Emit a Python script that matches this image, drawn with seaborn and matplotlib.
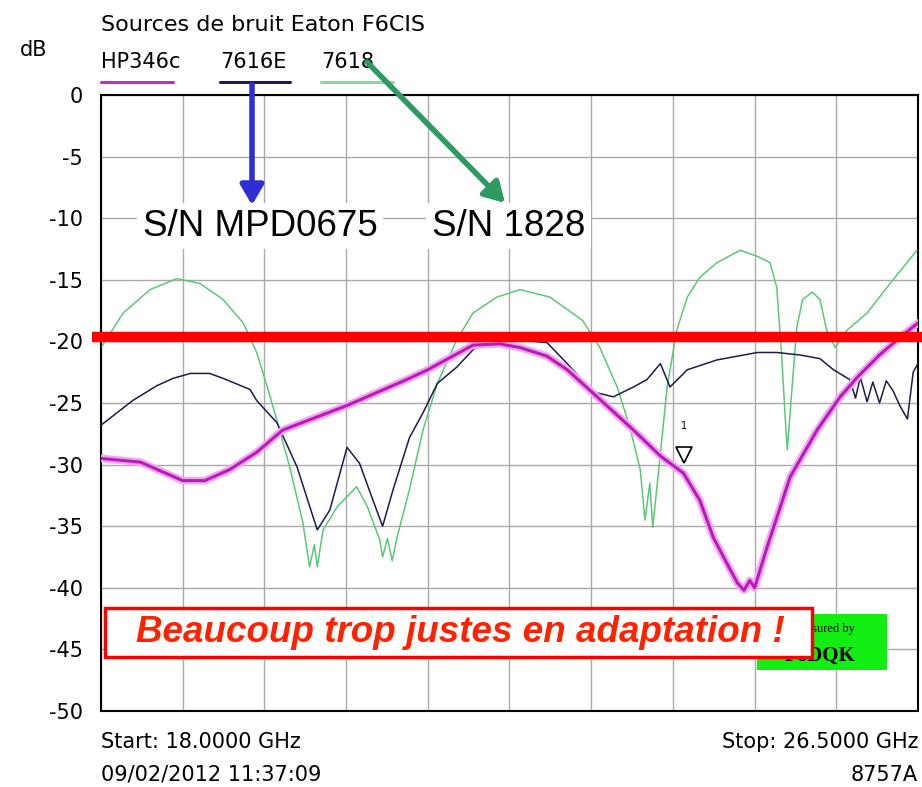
import matplotlib
matplotlib.use("Agg")
import matplotlib.pyplot as plt
from matplotlib.patches import Rectangle, FancyArrowPatch
import seaborn as sns
import pandas as pd
import numpy as np

# sweep 18 - 26.5 GHz, return loss in dB
hp346c_ghz = [18.00, 18.41, 18.85, 19.08, 19.34, 19.62, 19.89, 20.56, 21.18, 21.40,
              21.87, 22.15, 22.36, 22.64, 22.85, 23.12, 23.54, 23.82, 24.06, 24.23,
              24.37, 24.49, 24.62, 24.69, 24.75, 24.80, 24.93, 25.17, 25.45, 25.69,
              25.87, 26.10, 26.31, 26.50]
hp346c_db = [-29.5, -29.8, -31.3, -31.3, -30.4, -29.0, -27.2, -25.2, -23.1, -22.3,
             -20.3, -20.2, -20.5, -21.2, -22.3, -24.2, -27.2, -29.3, -30.7, -32.9,
             -35.9, -37.7, -39.6, -40.2, -39.4, -40.0, -36.7, -31.0, -27.2, -24.5,
             -22.9, -21.1, -19.7, -18.5]

e7616_ghz = [18.00, 18.33, 18.58, 18.75, 18.93, 19.13, 19.27, 19.55, 19.62, 19.83,
             20.04, 20.25, 20.38, 20.56, 20.69, 20.83, 20.93, 21.04, 21.21, 21.35,
             21.50, 21.70, 21.94, 22.15, 22.36, 22.64, 22.85, 23.12, 23.33, 23.54,
             23.68, 23.82, 23.92, 24.10, 24.41, 24.83, 25.03, 25.27, 25.48, 25.62,
             25.79, 25.85, 25.90, 25.97, 26.03, 26.10, 26.17, 26.24, 26.31, 26.39,
             26.45, 26.50]
e7616_db = [-26.8, -24.8, -23.6, -23.0, -22.6, -22.6, -23.0, -23.9, -24.8, -26.6,
            -30.2, -35.3, -33.7, -28.6, -29.9, -32.9, -35.0, -32.0, -27.8, -25.8,
            -23.4, -22.1, -20.1, -19.9, -19.9, -20.1, -21.8, -24.1, -24.5, -23.7,
            -23.1, -21.8, -23.7, -22.3, -21.5, -20.9, -20.9, -21.1, -21.4, -22.3,
            -23.1, -24.6, -22.9, -24.9, -23.3, -25.0, -23.2, -24.0, -25.2, -26.3,
            -22.5, -21.8]

s7618_ghz = [18.01, 18.23, 18.51, 18.79, 19.03, 19.27, 19.48, 19.62, 19.73, 19.83,
             19.97, 20.10, 20.17, 20.22, 20.25, 20.31, 20.46, 20.66, 20.77, 20.90,
             20.93, 20.98, 21.03, 21.08, 21.21, 21.35, 21.50, 21.70, 21.87, 22.12,
             22.36, 22.67, 23.01, 23.19, 23.37, 23.50, 23.61, 23.66, 23.71, 23.74,
             23.82, 23.89, 23.99, 24.10, 24.23, 24.41, 24.65, 24.83, 24.96, 25.03,
             25.08, 25.12, 25.14, 25.19, 25.24, 25.30, 25.40, 25.48, 25.55, 25.64,
             25.76, 25.97, 26.24, 26.49]
s7618_db = [-20.4, -17.7, -15.8, -14.9, -15.3, -16.6, -18.5, -20.9, -23.7, -26.4,
            -30.4, -34.7, -38.3, -36.5, -38.3, -35.3, -33.4, -31.8, -33.4, -36.1,
            -37.5, -36.0, -37.8, -35.9, -32.0, -27.2, -23.4, -19.9, -17.7, -16.4,
            -15.8, -16.4, -18.3, -20.5, -23.7, -26.9, -30.4, -34.5, -31.5, -35.1,
            -29.1, -23.7, -19.1, -16.4, -14.8, -13.6, -12.6, -13.1, -13.6, -15.6,
            -20.9, -26.4, -28.8, -23.7, -18.8, -16.6, -16.0, -16.6, -19.1, -20.5,
            -19.1, -17.7, -15.0, -12.6]

legend_labels = ["HP346c", "7616E", "7618"]
marker_ghz, marker_db = 24.07, -29.2
limit_db = -19.65

W, H = 922, 787
sns.set_style("white")
plt.rcParams["font.family"] = ["DejaVu Sans"]
plt.rcParams["text.color"] = "black"
plt.rcParams["ytick.color"] = "black"

fig = plt.figure(figsize=(W / 100, H / 100), dpi=100)
ax = fig.add_axes([101 / W, 1 - 711 / H, 817 / W, 616 / H])


def fx(px):
    return px / W


def fy(py):
    return 1 - py / H


hp = pd.DataFrame({"ghz": hp346c_ghz, "db": hp346c_db})
e16 = pd.DataFrame({"ghz": e7616_ghz, "db": e7616_db})
s18 = pd.DataFrame({"ghz": s7618_ghz, "db": s7618_db})

sns.lineplot(data=s18, x="ghz", y="db", ax=ax, color="#5cc77a", lw=1.1,
             sort=False, estimator=None, zorder=3)
sns.lineplot(data=e16, x="ghz", y="db", ax=ax, color="#1c1c4a", lw=1.1,
             sort=False, estimator=None, zorder=4)
sns.lineplot(data=hp, x="ghz", y="db", ax=ax, color="#f2a6f2", lw=5.5,
             sort=False, estimator=None, zorder=5)
sns.lineplot(data=hp, x="ghz", y="db", ax=ax, color="#b81cb8", lw=2.2,
             sort=False, estimator=None, zorder=6)

ax.plot([marker_ghz], [marker_db], marker="v", ms=11, mfc="white", mec="black",
        mew=1.2, zorder=7)
ax.text(marker_ghz, marker_db + 2.3, "1", fontsize=7, ha="center", va="center", zorder=7)

ax.set_xlim(18, 26.5)
ax.set_ylim(-50, 0)
ax.set_xticks(np.linspace(18, 26.5, 11))
ax.set_xticklabels([])
ax.set_yticks(range(-50, 1, 5))
ax.set_yticklabels([str(v) for v in range(-50, 1, 5)], fontsize=15)
ax.tick_params(axis="both", length=0, pad=13)
ax.set_xlabel("")
ax.set_ylabel("")
ax.grid(True, color="#a9a9a9", lw=1)
for s in ax.spines.values():
    s.set_color("black")
    s.set_linewidth(1.5)

# red limit line, spills past the left frame
ax.axhline(limit_db, xmin=-0.011, xmax=1.01, color="#ff0000", lw=7.5,
           solid_capstyle="butt", clip_on=False, zorder=8)

# header
fig.text(fx(101), fy(25), "Sources de bruit Eaton F6CIS", fontsize=16, va="center")
fig.text(fx(20), fy(50), "dB", fontsize=15, va="center")
leg_x = [101, 220, 321]
leg_end = [173, 290, 393]
leg_col = ["#c030c0", "#1c1c4a", "#8ad8a0"]
for lab, x0, x1, c in zip(legend_labels, leg_x, leg_end, leg_col):
    fig.text(fx(x0), fy(62), lab, fontsize=15, va="center")
    fig.add_artist(plt.Line2D([fx(x0), fx(x1)], [fy(82), fy(82)], color=c, lw=2.2))

# footer
fig.text(fx(101), fy(742), "Start: 18.0000 GHz", fontsize=15, va="center")
fig.text(fx(918), fy(742), "Stop: 26.5000 GHz", fontsize=15, va="center", ha="right")
fig.text(fx(101), fy(775), "09/02/2012 11:37:09", fontsize=15, va="center")
fig.text(fx(918), fy(775), "8757A", fontsize=15, va="center", ha="right")

# serial number callouts
fig.text(fx(143), fy(226), "S/N MPD0675", fontsize=26.5, family=["Liberation Sans"],
         va="center", zorder=10,
         bbox=dict(facecolor="white", edgecolor="none", pad=4))
fig.text(fx(432), fy(226), "S/N 1828", fontsize=26.5, family=["Liberation Sans"],
         va="center", zorder=10,
         bbox=dict(facecolor="white", edgecolor="none", pad=4))
fig.add_artist(FancyArrowPatch(
    (fx(252), fy(82)), (fx(252), fy(208)), transform=fig.transFigure,
    arrowstyle="-|>,head_length=6,head_width=3.5", color="#2e2ed2", lw=4,
    mutation_scale=2, zorder=11))
fig.add_artist(FancyArrowPatch(
    (fx(365), fy(60)), (fx(507), fy(205)), transform=fig.transFigure,
    arrowstyle="-|>,head_length=6,head_width=3.5", color="#2e9a62", lw=4,
    mutation_scale=2, zorder=11))

# "Measured by" badge, partly hidden behind the comment box
fig.add_artist(Rectangle((fx(757), fy(670)), fx(887) - fx(757), fy(614) - fy(670),
                         transform=fig.transFigure, facecolor="#12ee12",
                         edgecolor="none", zorder=12))
fig.text(fx(822), fy(629), "Measured by", fontsize=9, family=["Liberation Serif"],
         ha="center", va="center", zorder=13)
fig.text(fx(820), fy(656), "F6DQK", fontsize=15, family=["Liberation Serif"],
         weight="bold", ha="center", va="center", zorder=13)

fig.add_artist(Rectangle((fx(105), fy(657)), fx(812) - fx(105), fy(608) - fy(657),
                         transform=fig.transFigure, facecolor="white",
                         edgecolor="#ff0000", lw=2.5, zorder=14))
fig.text(fx(460), fy(633), "Beaucoup trop justes en adaptation !", fontsize=26.5,
         family=["Liberation Sans"], weight="bold", style="italic",
         color="#ff2200", ha="center", va="center", zorder=15)

fig.savefig("out.png", dpi=100)
